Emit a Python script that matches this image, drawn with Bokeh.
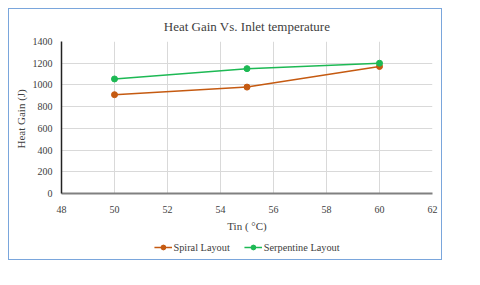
from bokeh.plotting import figure
from bokeh.models import Legend, LegendItem, FixedTicker, Range1d
from bokeh.layouts import column
from bokeh.embed import file_html
from bokeh.resources import INLINE

tin = [50, 55, 60]
spiral = [910, 980, 1170]
serpentine = [1055, 1150, 1200]
x_ticks = [48, 50, 52, 54, 56, 58, 60, 62]
y_ticks = [0, 200, 400, 600, 800, 1000, 1200, 1400]
series_names = ["Spiral Layout", "Serpentine Layout"]

FONT = "Liberation Serif"
TXT = "#404040"
c1, c2 = "#c55a11", "#1db954"

p = figure(width=432, height=226, output_backend="svg", toolbar_location=None,
           x_range=Range1d(48, 62), y_range=Range1d(0, 1400),
           min_border_left=52, min_border_right=9, min_border_top=31, min_border_bottom=42)

p.title.text = "Heat Gain Vs. Inlet temperature"
p.title.align = "center"
p.title.offset = -21
p.title.standoff = 15
p.title.text_font = FONT
p.title.text_font_size = "13px"
p.title.text_font_style = "normal"
p.title.text_color = TXT

p.outline_line_color = None
for ax in (p.xaxis, p.yaxis):
    ax.major_tick_line_color = None
    ax.minor_tick_line_color = None
    ax.major_label_text_font = FONT
    ax.major_label_text_font_size = "10px"
    ax.major_label_text_color = TXT
    ax.axis_label_text_font = FONT
    ax.axis_label_text_font_size = "11px"
    ax.axis_label_text_font_style = "normal"
    ax.axis_label_text_color = TXT
p.xaxis.ticker = FixedTicker(ticks=x_ticks)
p.yaxis.ticker = FixedTicker(ticks=y_ticks)
p.xaxis.axis_label = "Tin ( °C)"
p.yaxis.axis_label = "Heat Gain  (J)"
p.xaxis.axis_line_color = "#808080"
p.xaxis.axis_line_width = 2
p.yaxis.axis_line_color = "#222222"
p.yaxis.axis_line_width = 1.5
p.xaxis.major_label_standoff = 6
p.yaxis.major_label_standoff = 3
p.xaxis.axis_label_standoff = 4
p.yaxis.axis_label_standoff = 3
p.xgrid.grid_line_color = "#d9d9d9"
p.ygrid.grid_line_color = "#d9d9d9"

p.line(tin, spiral, line_color=c1, line_width=1.5)
p.scatter(tin, spiral, size=6, color=c1)
p.line(tin, serpentine, line_color=c2, line_width=1.5)
p.scatter(tin, serpentine, size=6, color=c2)

# legend strip (series drawn off-range so only the legend shows)
lg = figure(width=432, height=24, output_backend="svg", toolbar_location=None,
            x_range=Range1d(0, 1), y_range=Range1d(0, 1), min_border=0)
lg.axis.visible = False
lg.grid.visible = False
lg.outline_line_color = None
items = []
for name, c, vals in zip(series_names, (c1, c2), (spiral, serpentine)):
    r1 = lg.line(tin, vals, line_color=c, line_width=1.5)
    r2 = lg.scatter(tin, vals, size=6, color=c)
    items.append(LegendItem(label=name, renderers=[r1, r2]))
legend = Legend(items=items, orientation="horizontal", location="center",
                label_text_font=FONT, label_text_font_size="10.3px", label_text_color=TXT,
                background_fill_alpha=0, border_line_color=None,
                glyph_width=18, glyph_height=12, label_height=12,
                label_standoff=2, spacing=14, padding=0, margin=0)
lg.add_layout(legend, "center")

box = column(p, lg, spacing=0,
             styles={"outline": "1px solid #7aa6dc", "transform": "translate(9px, 9px)"})
open("out.html", "w").write(file_html(box, INLINE))
